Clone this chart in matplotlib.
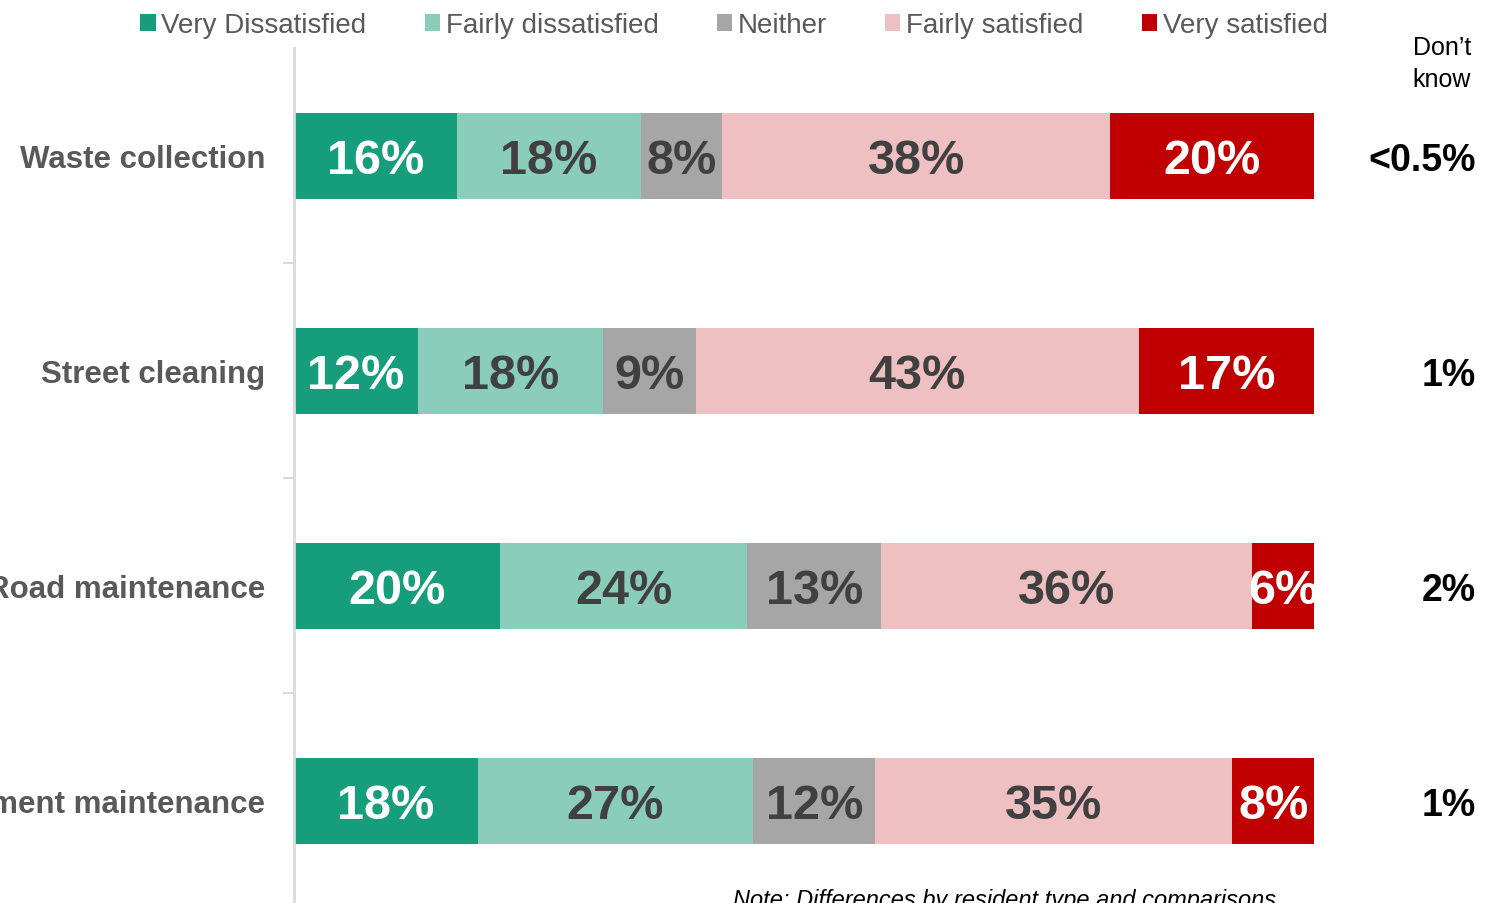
import matplotlib.pyplot as plt
import numpy as np

plt.rcParams['font.family'] = ['Liberation Sans', 'DejaVu Sans']

# survey results (% of residents)
services = ['Waste collection', 'Street cleaning', 'Road maintenance', 'Pavement maintenance']
levels = ['Very Dissatisfied', 'Fairly dissatisfied', 'Neither', 'Fairly satisfied', 'Very satisfied']
very_dis = [16, 12, 20, 18]
fairly_dis = [18, 18, 24, 27]
neither = [8, 9, 13, 12]
fairly_sat = [38, 43, 36, 35]
very_sat = [20, 17, 6, 8]
dont_know = ['<0.5%', '1%', '2%', '1%']

colors = ['#169E7C', '#89CDBA', '#A6A6A6', '#EFC0C1', '#C00000']
text_cols = ['white', '#404040', '#404040', '#404040', 'white']

vals = np.array([very_dis, fairly_dis, neither, fairly_sat, very_sat], dtype=float)
# 100% stacked, like the excel original
shares = vals / vals.sum(axis=0) * 100

fig = plt.figure(figsize=(14.86, 9.04), dpi=100)
ax = fig.add_axes([294 / 1486, 1 - 909.5 / 904, 1020 / 1486, 860.5 / 904])

y = np.arange(len(services))
left = np.zeros(len(services))
for k in range(len(levels)):
    ax.barh(y, shares[k], left=left, height=0.4, color=colors[k], label=levels[k])
    for i in range(len(services)):
        ax.text(left[i] + shares[k][i] / 2, y[i], '%d%%' % vals[k][i], ha='center',
                va='center_baseline', fontsize=35, fontweight='bold', color=text_cols[k])
    left += shares[k]

ax.set_xlim(0, 100)
ax.set_ylim(3.5, -0.5)
ax.set_xticks([])
ax.set_yticks([0.5, 1.5, 2.5])
ax.set_yticklabels([])
ax.tick_params(axis='y', length=8, width=1.5, color='#D9D9D9')
for sp in ['top', 'right', 'bottom']:
    ax.spines[sp].set_visible(False)
ax.spines['left'].set_color('#D9D9D9')
ax.spines['left'].set_linewidth(2)

for i, s in enumerate(services):
    ax.annotate(s, (0, y[i]), xycoords=('axes fraction', 'data'), xytext=(-29, 0),
                textcoords='offset pixels', ha='right', va='center_baseline', fontsize=22.5,
                fontweight='bold', color='#595959', annotation_clip=False)
    ax.annotate(dont_know[i], (1, y[i]), xycoords=('axes fraction', 'data'), xytext=(162, 0),
                textcoords='offset pixels', ha='right', va='center_baseline', fontsize=27,
                fontweight='bold', color='black', annotation_clip=False)

fig.text(1442 / 1486, 1 - 64 / 904, 'Don\u2019t\nknow', ha='center', va='center', fontsize=18,
         color='black', linespacing=1.45)

leg = fig.legend(loc='center', bbox_to_anchor=(734 / 1486, 1 - 26 / 904), ncol=5, frameon=False,
                 fontsize=20, handlelength=0.55, handleheight=0.55, handletextpad=0.2,
                 columnspacing=2.1, borderaxespad=0)
for t in leg.get_texts():
    t.set_color('#595959')

fig.text(733 / 1486, 1 - 889 / 904, 'Note: Differences by resident type and comparisons',
         ha='left', va='top', fontsize=17, style='italic', color='black')

fig.savefig('out.png', dpi=100)
